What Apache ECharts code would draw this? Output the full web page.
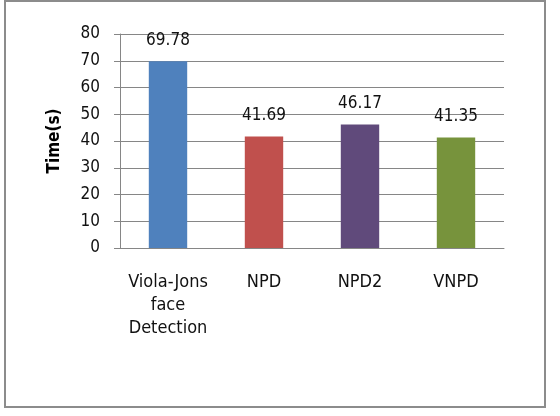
<!DOCTYPE html>
<html lang="en">
<head>
    <meta charset="UTF-8">
    <title>Detection Time</title>
    <script src="https://cdn.jsdelivr.net/npm/echarts@6/dist/echarts.min.js"></script>
    <style>
        body { margin: 0; background: #fff; }
        #chart { width: 560px; height: 416px; }
    </style>
</head>
<body>
<div id="chart"></div>
<script>
    const categories = ['Viola-Jons\nface\nDetection', 'NPD', 'NPD2', 'VNPD'];
    const times = [69.78, 41.69, 46.17, 41.35];
    const barColors = ['#4F81BD', '#C0504D', '#604A7B', '#77933C'];

    const chart = echarts.init(document.getElementById('chart'));
    const font = '"DejaVu Sans Condensed", "DejaVu Sans"';
    chart.setOption({
        backgroundColor: '#fff',
        animation: false,
        graphic: [{
            type: 'rect',
            shape: { x: 5, y: 1, width: 540, height: 406 },
            style: { fill: 'none', stroke: '#8c8c8c', lineWidth: 2 }
        }],
        grid: { left: 120, right: 56, top: 34, bottom: 168 },
        xAxis: {
            type: 'category',
            data: categories,
            axisLine: { lineStyle: { color: '#868686', width: 1 } },
            axisTick: { show: false },
            axisLabel: {
                color: '#111', fontFamily: font, fontSize: 18,
                lineHeight: 23, margin: 23, interval: 0
            }
        },
        yAxis: {
            type: 'value',
            min: 0, max: 80, interval: 10,
            name: 'Time(s)',
            nameLocation: 'middle',
            nameRotate: 90,
            nameGap: 57,
            nameTextStyle: { color: '#000', fontFamily: font, fontSize: 17, fontWeight: 'bold' },
            axisLine: { show: true, lineStyle: { color: '#868686' } },
            axisTick: { show: true, length: 6, lineStyle: { color: '#868686' } },
            axisLabel: { color: '#111', fontFamily: font, fontSize: 17, margin: 20 },
            splitLine: { lineStyle: { color: '#868686' } }
        },
        series: [{
            type: 'bar',
            barWidth: '40%',
            data: times.map((v, i) => ({ value: v, itemStyle: { color: barColors[i] } })),
            label: {
                show: true, position: 'top', distance: 12,
                color: '#111', fontFamily: font, fontSize: 17
            }
        }]
    });
</script>
</body>
</html>
